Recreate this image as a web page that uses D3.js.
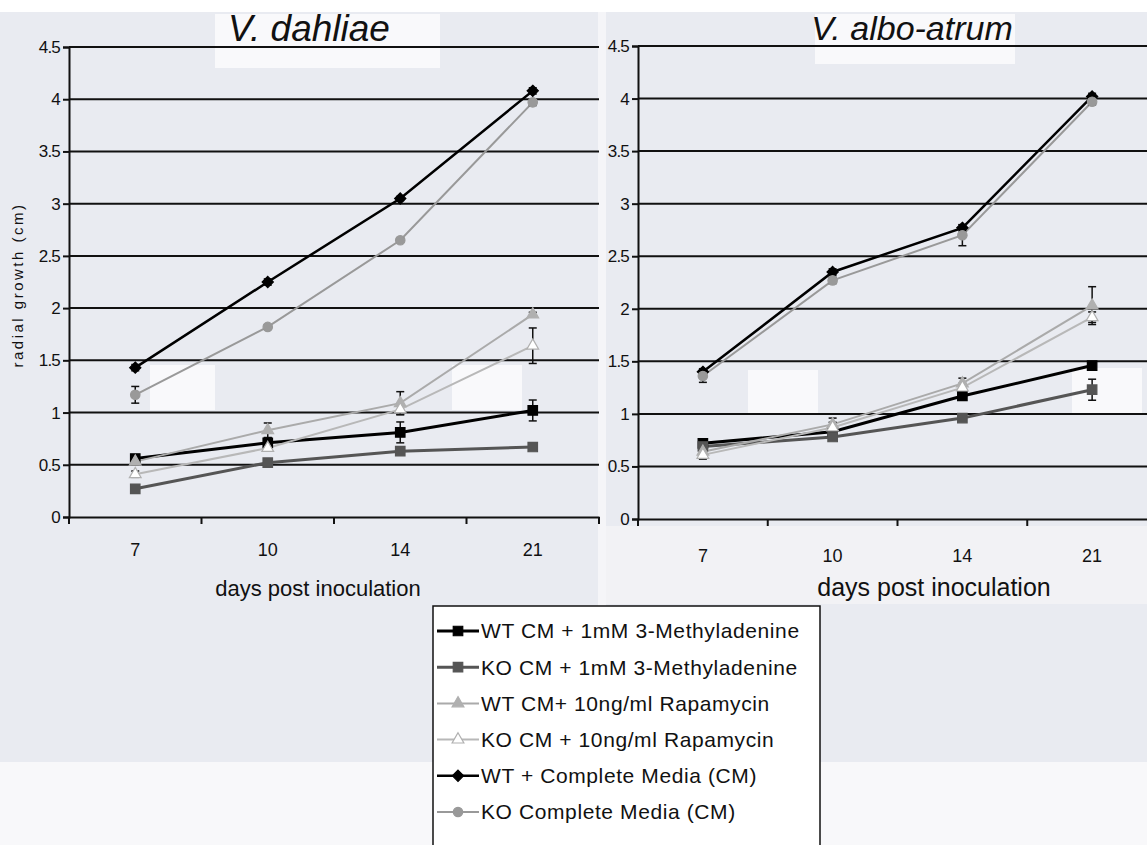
<!DOCTYPE html>
<html>
<head>
<meta charset="utf-8">
<script src="https://cdn.jsdelivr.net/npm/d3@7"></script>
<style>
  html, body { margin: 0; padding: 0; background: #fff; }
  svg { display: block; font-family: "Liberation Sans", Arial, sans-serif; }
</style>
</head>
<body>
<svg id="chart" width="1147" height="845"></svg>
<script>
// days on the x axis (category axis)
const days = ["7", "10", "14", "21"];
const yTicks = [0, 0.5, 1, 1.5, 2, 2.5, 3, 3.5, 4, 4.5];

const seriesNames = [
  "WT CM + 1mM 3-Methyladenine",
  "KO CM + 1mM 3-Methyladenine",
  "WT CM+ 10ng/ml Rapamycin",
  "KO CM + 10ng/ml Rapamycin",
  "WT + Complete Media (CM)",
  "KO Complete Media (CM)"
];

// V. dahliae, radial growth (cm)
const dahWT3MA = [0.56, 0.71, 0.81, 1.02];
const dahKO3MA = [0.27, 0.52, 0.63, 0.67];
const dahWTRap = [0.53, 0.83, 1.09, 1.94];
const dahKORap = [0.41, 0.66, 1.03, 1.64];
const dahWTCM  = [1.43, 2.25, 3.05, 4.08];
const dahKOCM  = [1.17, 1.82, 2.65, 3.97];
// error bars
const dahWT3MAErr = [0.03, 0.05, 0.1, 0.1];
const dahKO3MAErr = [0.03, 0.03, 0.03, 0.02];
const dahWTRapErr = [0.03, 0.07, 0.11, 0.02];
const dahKORapErr = [0.03, 0.03, 0.05, 0.17];
const dahWTCMErr  = [0.03, 0.03, 0.02, 0.03];
const dahKOCMErr  = [0.08, 0.02, 0.02, 0.03];

// V. albo-atrum
const albWT3MA = [0.72, 0.83, 1.17, 1.46];
const albKO3MA = [0.69, 0.78, 0.96, 1.23];
const albWTRap = [0.64, 0.9, 1.29, 2.03];
const albKORap = [0.61, 0.87, 1.25, 1.92];
const albWTCM  = [1.4, 2.35, 2.77, 4.02];
const albKOCM  = [1.36, 2.27, 2.7, 3.97];
const albWT3MAErr = [0.04, 0.03, 0.04, 0.03];
const albKO3MAErr = [0.04, 0.03, 0.03, 0.1];
const albWTRapErr = [0.05, 0.06, 0.05, 0.18];
const albKORapErr = [0.04, 0.05, 0.04, 0.05];
const albWTCMErr  = [0.03, 0.03, 0.03, 0.03];
const albKOCMErr  = [0.06, 0.03, 0.1, 0.03];

// look of each series, same order as seriesNames
const styles = [
  {stroke: "#000",    width: 3,   symbol: d3.symbolSquare,   size: 90, fill: "#000",    mstroke: "#000"},
  {stroke: "#555",    width: 3,   symbol: d3.symbolSquare,   size: 90, fill: "#555",    mstroke: "#555"},
  {stroke: "#aaa",    width: 2,   symbol: d3.symbolTriangle, size: 60, fill: "#b0b0b0", mstroke: "#b0b0b0"},
  {stroke: "#b8b8b8", width: 2,   symbol: d3.symbolTriangle, size: 60, fill: "#fff",    mstroke: "#b0b0b0"},
  {stroke: "#000",    width: 2.5, symbol: d3.symbolDiamond2, size: 80, fill: "#000",    mstroke: "#000"},
  {stroke: "#999",    width: 2,   symbol: d3.symbolCircle,   size: 70, fill: "#999",    mstroke: "#999"}
];

const svg = d3.select("#chart");

// scanned page background
svg.append("rect").attr("width", 1147).attr("height", 845).attr("fill", "#fff");
svg.append("rect").attr("x", 0).attr("y", 12).attr("width", 1147).attr("height", 750).attr("fill", "#e9ebf1");
svg.append("rect").attr("x", 0).attr("y", 762).attr("width", 1147).attr("height", 83).attr("fill", "#f8f8fa");
svg.append("rect").attr("x", 598).attr("y", 12).attr("width", 8).attr("height", 750).attr("fill", "#f5f5f8");
svg.append("rect").attr("x", 606).attr("y", 526).attr("width", 541).attr("height", 78).attr("fill", "#f2f2f5");

function drawPanel(cfg) {
  const g = svg.append("g");

  const x = d3.scaleBand().domain(days).range([cfg.x0, cfg.x1]);
  const y = d3.scaleLinear().domain([0, 4.5]).range([cfg.y0, cfg.y1]);

  // faint white label boxes of the photo behind
  cfg.boxes.forEach(b => {
    g.append("rect").attr("x", b[0]).attr("y", b[1]).attr("width", b[2]).attr("height", b[3])
      .attr("fill", "#f9f9fb");
  });

  // gridlines
  g.append("g")
    .selectAll("line")
    .data(yTicks.filter(d => d > 0))
    .join("line")
    .attr("x1", cfg.x0).attr("x2", cfg.x1)
    .attr("y1", d => y(d)).attr("y2", d => y(d))
    .attr("stroke", "#111").attr("stroke-width", 2);

  // y axis
  const yAxis = g.append("g")
    .attr("transform", `translate(${cfg.x0},0)`)
    .call(d3.axisLeft(y).tickValues(yTicks).tickSize(6).tickPadding(3)
      .tickFormat(d => d3.format("")(d)));
  yAxis.select(".domain").attr("stroke", "#111").attr("stroke-width", 2);
  yAxis.selectAll(".tick line").attr("stroke", "#111").attr("stroke-width", 2);
  yAxis.selectAll("text").attr("font-size", 17).attr("fill", "#111")
    .attr("letter-spacing", "-0.8");

  // x axis with ticks between categories
  const xAxis = g.append("g")
    .attr("transform", `translate(0,${cfg.y0})`)
    .call(d3.axisBottom(x).tickSize(0).tickPadding(cfg.xLabelPad));
  xAxis.select(".domain").attr("stroke", "#111").attr("stroke-width", 2);
  xAxis.selectAll("text").attr("font-size", 18).attr("fill", "#111");
  xAxis.selectAll(".sep")
    .data(days.map(d => x(d)).concat([cfg.x1]))
    .join("line")
    .attr("class", "sep")
    .attr("x1", d => d).attr("x2", d => d)
    .attr("y1", 0).attr("y2", 7)
    .attr("stroke", "#111").attr("stroke-width", 2);

  const cx = d => x(d) + x.bandwidth() / 2;

  const line = d3.line()
    .x((v, i) => cx(days[i]))
    .y(v => y(v));

  cfg.series.forEach((vals, k) => {
    const st = styles[k];
    g.append("path")
      .attr("d", line(vals))
      .attr("fill", "none")
      .attr("stroke", st.stroke)
      .attr("stroke-width", st.width);
  });

  // error bars
  cfg.series.forEach((vals, k) => {
    const errs = cfg.errors[k];
    const eg = g.append("g").attr("stroke", "#111").attr("stroke-width", 1.5);
    vals.forEach((v, i) => {
      const px = cx(days[i]);
      eg.append("line").attr("x1", px).attr("x2", px)
        .attr("y1", y(v - errs[i])).attr("y2", y(v + errs[i]));
      [v - errs[i], v + errs[i]].forEach(e => {
        eg.append("line").attr("x1", px - 4).attr("x2", px + 4)
          .attr("y1", y(e)).attr("y2", y(e));
      });
    });
  });

  cfg.series.forEach((vals, k) => {
    const st = styles[k];
    g.append("g")
      .selectAll("path")
      .data(vals)
      .join("path")
      .attr("transform", (v, i) => `translate(${cx(days[i])},${y(v)})`)
      .attr("d", d3.symbol().type(st.symbol).size(st.size))
      .attr("fill", st.fill)
      .attr("stroke", st.mstroke)
      .attr("stroke-width", 1.2);
  });

  // titles
  g.append("text")
    .attr("x", cfg.titleX).attr("y", cfg.titleY)
    .attr("text-anchor", "middle")
    .attr("font-size", cfg.titleSize)
    .attr("font-style", "italic")
    .attr("fill", "#111")
    .text(cfg.title);

  g.append("text")
    .attr("x", cfg.xTitleX).attr("y", cfg.xTitleY)
    .attr("text-anchor", "middle")
    .attr("font-size", cfg.xTitleSize)
    .attr("fill", "#111")
    .text("days post inoculation");
}

drawPanel({
  x0: 69, x1: 599, y0: 517, y1: 47,
  xLabelPad: 26,
  series: [dahWT3MA, dahKO3MA, dahWTRap, dahKORap, dahWTCM, dahKOCM],
  errors: [dahWT3MAErr, dahKO3MAErr, dahWTRapErr, dahKORapErr, dahWTCMErr, dahKOCMErr],
  title: "V. dahliae", titleX: 309, titleY: 41, titleSize: 37,
  xTitleX: 318, xTitleY: 596, xTitleSize: 22,
  boxes: [[215, 14, 225, 54], [150, 365, 65, 45], [452, 365, 70, 45]]
});

drawPanel({
  x0: 638, x1: 1157, y0: 519, y1: 46,
  xLabelPad: 30,
  series: [albWT3MA, albKO3MA, albWTRap, albKORap, albWTCM, albKOCM],
  errors: [albWT3MAErr, albKO3MAErr, albWTRapErr, albKORapErr, albWTCMErr, albKOCMErr],
  title: "V. albo-atrum", titleX: 912, titleY: 40, titleSize: 34,
  xTitleX: 934, xTitleY: 596, xTitleSize: 25,
  boxes: [[815, 14, 200, 50], [748, 370, 70, 45], [1072, 368, 70, 45]]
});

// y axis title (left panel only)
svg.append("text")
  .attr("transform", "translate(23,285) rotate(-90)")
  .attr("text-anchor", "middle")
  .attr("font-size", 15)
  .attr("letter-spacing", "2.5")
  .attr("fill", "#111")
  .text("radial growth (cm)");

// legend
const legend = svg.append("g").attr("transform", "translate(433,606)");
legend.append("rect")
  .attr("x", 0).attr("y", 0).attr("width", 387).attr("height", 260)
  .attr("fill", "#fff").attr("stroke", "#111").attr("stroke-width", 1.5);

const rowY = d3.scalePoint().domain(seriesNames).range([25, 206]);

seriesNames.forEach((name, k) => {
  const st = styles[k];
  const ry = rowY(name);
  legend.append("line")
    .attr("x1", 4).attr("x2", 46).attr("y1", ry).attr("y2", ry)
    .attr("stroke", st.stroke).attr("stroke-width", st.width);
  legend.append("path")
    .attr("transform", `translate(25,${ry})`)
    .attr("d", d3.symbol().type(st.symbol).size(st.size))
    .attr("fill", st.fill).attr("stroke", st.mstroke).attr("stroke-width", 1.2);
  legend.append("text")
    .attr("x", 48).attr("y", ry)
    .attr("dy", "0.35em")
    .attr("font-size", 21)
    .attr("letter-spacing", "0.6")
    .attr("fill", "#111")
    .text(name);
});
</script>
</body>
</html>
